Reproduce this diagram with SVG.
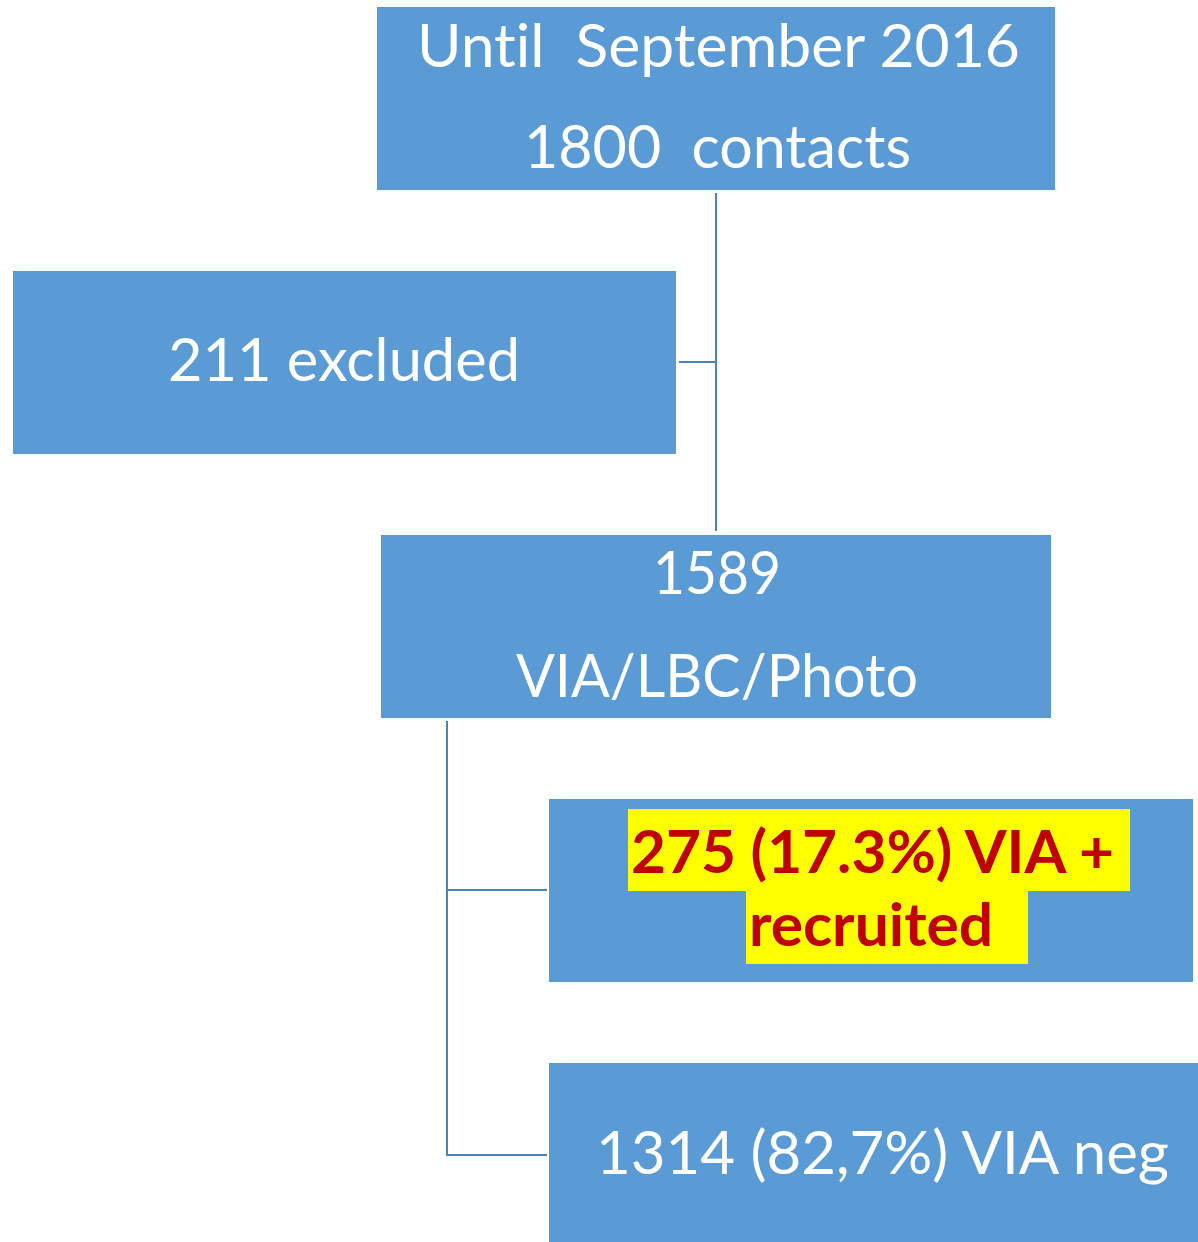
<svg xmlns="http://www.w3.org/2000/svg" width="1198" height="1242" viewBox="0 0 1198 1242">
<style>
.box{fill:#5B9BD5;}
.t{font-family:Lato,"Open Sans","Liberation Sans",sans-serif;font-size:60px;fill:#FFFFFF;white-space:pre;font-variant-ligatures:none;}
.b{font-family:Lato,"Open Sans","Liberation Sans",sans-serif;font-size:60px;font-weight:bold;fill:#C00000;white-space:pre;font-variant-ligatures:none;}
.hl{fill:#FFFF00;}
.c{stroke:#4F81BD;stroke-width:2;fill:none;}
</style>
<rect width="1198" height="1242" fill="#FFFFFF"/>
<g id="connectors">
<path class="c" d="M716,193 V531"/>
<path class="c" d="M679,362 H716"/>
<path class="c" d="M447,721 V1155 H547"/>
<path class="c" d="M447,890 H547"/>
</g>
<g id="n1">
<rect class="box" x="377" y="7" width="678" height="183"/>
<text class="t" x="417" y="67" textLength="603" lengthAdjust="spacingAndGlyphs" xml:space="preserve">Until  September 2016</text>
<text class="t" x="524" y="168" textLength="387" lengthAdjust="spacingAndGlyphs" xml:space="preserve">1800  contacts</text>
</g>
<g id="n2">
<rect class="box" x="13" y="271" width="663" height="183"/>
<text class="t" x="168" y="381" textLength="352" lengthAdjust="spacingAndGlyphs">211 excluded</text>
</g>
<g id="n3">
<rect class="box" x="381" y="535" width="670" height="183"/>
<text class="t" x="653" y="594" textLength="128" lengthAdjust="spacingAndGlyphs">1589</text>
<text class="t" x="516" y="697" textLength="402" lengthAdjust="spacingAndGlyphs">VIA/LBC/Photo</text>
</g>
<g id="n4">
<rect class="box" x="549" y="799" width="644" height="183"/>
<rect class="hl" x="628" y="809" width="502" height="82"/>
<rect class="hl" x="746" y="890" width="282" height="74"/>
<text class="b" x="631" y="873" textLength="483" lengthAdjust="spacingAndGlyphs">275 (17.3%) VIA +</text>
<text class="b" x="749" y="946" textLength="244" lengthAdjust="spacingAndGlyphs">recruited</text>
</g>
<g id="n5">
<rect class="box" x="549" y="1063" width="649" height="179"/>
<text class="t" x="596" y="1174" textLength="573" lengthAdjust="spacingAndGlyphs">1314 (82,7%) VIA neg</text>
</g>
</svg>
